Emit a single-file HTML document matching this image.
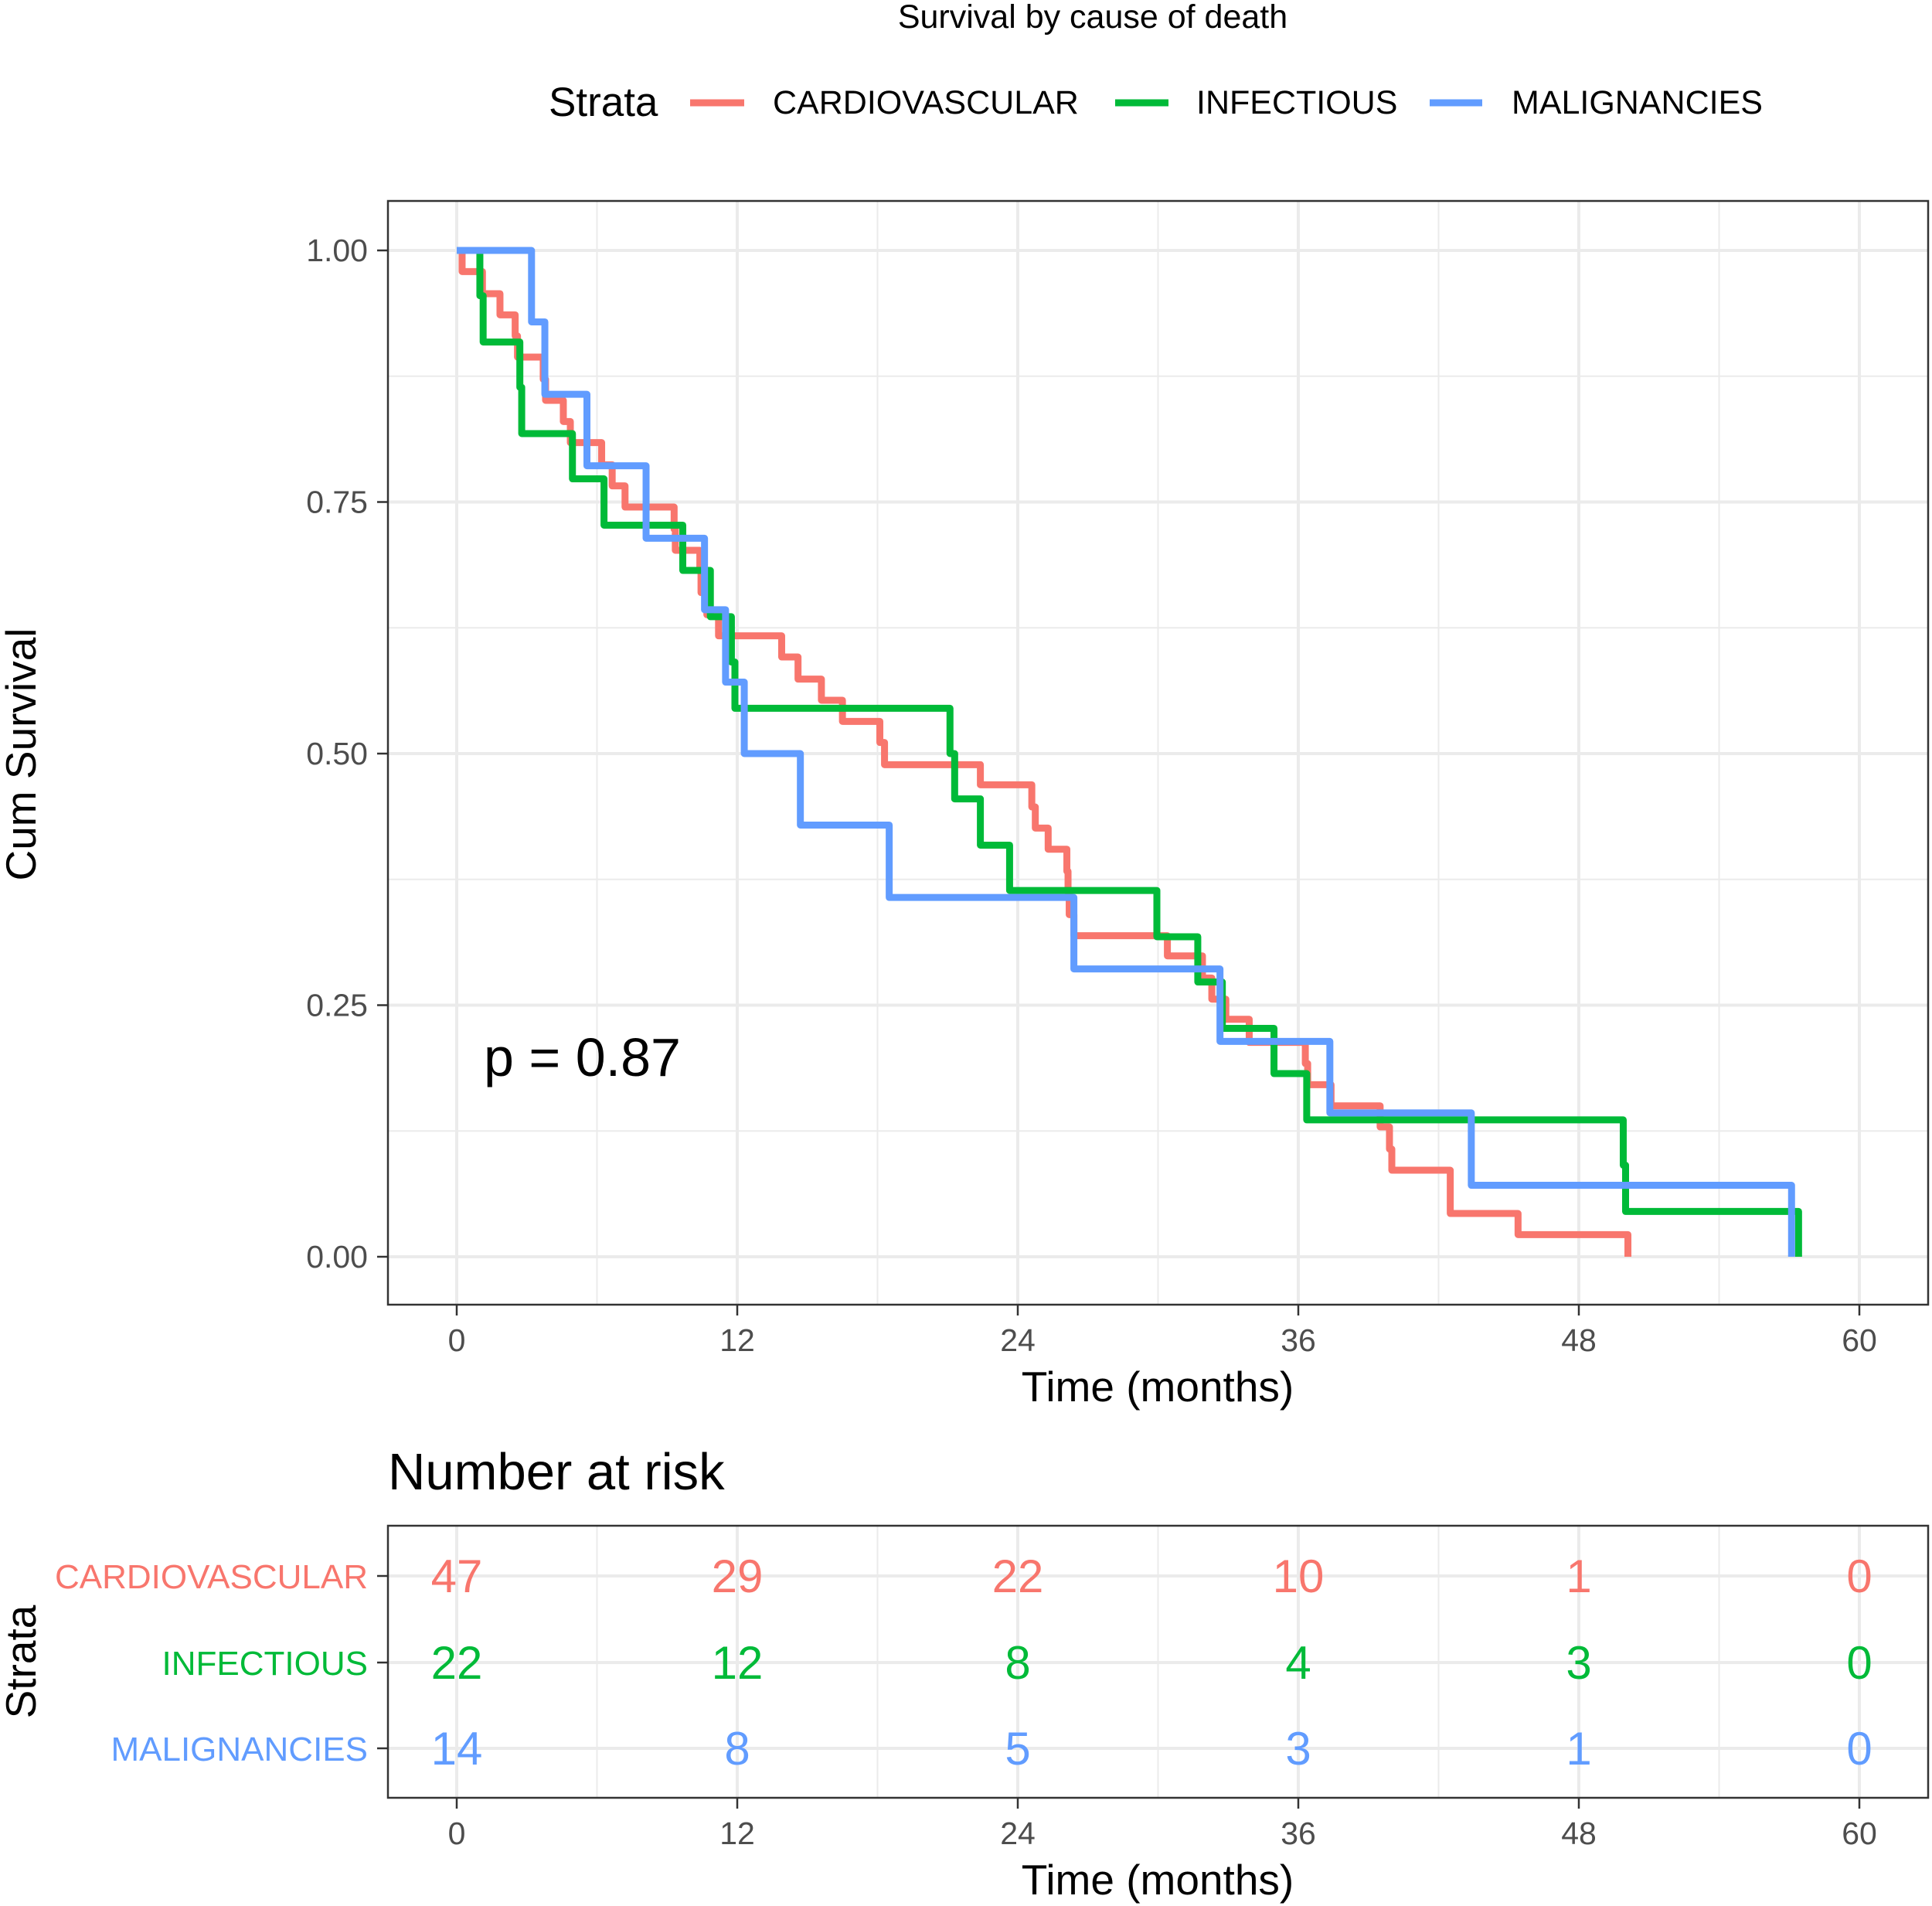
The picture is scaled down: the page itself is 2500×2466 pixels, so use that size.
<!DOCTYPE html>
<html><head><meta charset="utf-8"><style>
html,body{margin:0;padding:0;background:#fff;}
svg{display:block;font-family:"Liberation Sans",sans-serif;}
</style></head><body>
<svg id="chart" width="2500" height="2466" viewBox="0 0 2500 2466" xmlns="http://www.w3.org/2000/svg">
<text x="1414" y="36" font-size="43" text-anchor="middle" fill="#000">Survival by cause of death</text>
<g>
<text x="710" y="150" font-size="53" fill="#000">Strata</text>
<line x1="893" y1="133" x2="963" y2="133" stroke="#F8766D" stroke-width="9"/>
<text x="1000" y="147" font-size="43" fill="#000">CARDIOVASCULAR</text>
<line x1="1443" y1="133" x2="1512" y2="133" stroke="#00BA38" stroke-width="9"/>
<text x="1548" y="147" font-size="43" fill="#000">INFECTIOUS</text>
<line x1="1850" y1="133" x2="1918" y2="133" stroke="#619CFF" stroke-width="9"/>
<text x="1956" y="147" font-size="43" fill="#000">MALIGNANCIES</text>
</g>
<g id="plot"></g>
<g id="risk"></g>
</svg>
<script>
const xTicks = [0, 12, 24, 36, 48, 60];
const yTicks = [0, 0.25, 0.5, 0.75, 1];
const yTickLabels = ["0.00", "0.25", "0.50", "0.75", "1.00"];
const cardioTimes = [0.23,1.1,1.85,2.5,2.6,3.7,3.8,4.56,4.86,6.2,6.65,7.2,9.3,9.35,10.4,10.45,10.7,11.2,13.9,14.6,15.6,16.5,18.1,18.3,22.4,24.6,24.75,25.3,26.1,26.15,26.2,26.4,30.4,31.9,32.3,32.9,33.9,36.3,36.4,37.4,39.5,39.9,40.0,42.5,45.4,50.1];
const cardioSurv = [0.979,0.957,0.936,0.915,0.894,0.872,0.851,0.830,0.809,0.787,0.766,0.745,0.723,0.702,0.681,0.660,0.638,0.617,0.596,0.574,0.553,0.532,0.511,0.489,0.469,0.447,0.426,0.405,0.383,0.362,0.340,0.319,0.299,0.277,0.256,0.236,0.213,0.192,0.171,0.150,0.129,0.107,0.086,0.043,0.022,0];
const infTimes = [0.99,1.13,2.7,2.78,4.95,6.3,9.67,10.85,11.75,11.9,21.1,21.3,22.4,23.65,29.95,31.7,32.75,34.96,36.36,49.9,50.0,57.4];
const infSurv = [0.955,0.909,0.864,0.818,0.773,0.727,0.682,0.636,0.591,0.545,0.5,0.455,0.409,0.364,0.318,0.273,0.227,0.182,0.136,0.091,0.045,0];
const malTimes = [3.2,3.77,5.57,8.1,10.6,11.5,12.3,14.7,18.5,26.4,32.65,37.35,43.4,57.1];
const malSurv = [0.929,0.857,0.786,0.714,0.643,0.571,0.5,0.429,0.357,0.286,0.214,0.143,0.071,0];
const strata = ["CARDIOVASCULAR", "INFECTIOUS", "MALIGNANCIES"];
const riskCardio = [47, 29, 22, 10, 1, 0];
const riskInf = [22, 12, 8, 4, 3, 0];
const riskMal = [14, 8, 5, 3, 1, 0];

const NS = "http://www.w3.org/2000/svg";
const colors = ["#F8766D", "#00BA38", "#619CFF"];
function mk(parent, tag, attrs, text) {
  const e = document.createElementNS(NS, tag);
  for (const k in attrs) e.setAttribute(k, attrs[k]);
  if (text !== undefined) e.textContent = text;
  parent.appendChild(e);
  return e;
}
const X = t => 591 + 30.25 * t;
const Y = s => 1626 - 1302 * s;
const P = {l: 502, t: 260, r: 2495, b: 1688};
const plot = document.getElementById('plot');

for (let k = 0; k < 5; k++) {
  const g = mk(plot, 'line', {x1: X(6 + 12 * k), x2: X(6 + 12 * k), y1: P.t, y2: P.b, stroke: '#ebebeb', 'stroke-width': 2});
  
  
}
for (let k = 0; k < 4; k++) {
  const g = mk(plot, 'line', {x1: P.l, x2: P.r, y1: Y(0.125 + 0.25 * k), y2: Y(0.125 + 0.25 * k), stroke: '#ebebeb', 'stroke-width': 2});
  
  
}
xTicks.forEach(t => {
  const g = mk(plot, 'line', {x1: X(t), x2: X(t), y1: P.t, y2: P.b, stroke: '#ebebeb', 'stroke-width': 4});
  
  
});
yTicks.forEach(v => {
  const g = mk(plot, 'line', {x1: P.l, x2: P.r, y1: Y(v), y2: Y(v), stroke: '#ebebeb', 'stroke-width': 4});
  
  
});

function stepPath(times, surv) {
  let d = 'M' + X(0) + ' ' + Y(1);
  for (let i = 0; i < times.length; i++) {
    d += ' H' + X(times[i]) + ' V' + Y(surv[i]);
  }
  return d;
}
const series = [[cardioTimes, cardioSurv, 'curve-cardiovascular'], [infTimes, infSurv, 'curve-infectious'], [malTimes, malSurv, 'curve-malignancies']];
series.forEach((s, i) => {
  const p = mk(plot, 'path', {d: stepPath(s[0], s[1]), fill: 'none', stroke: colors[i], 'stroke-width': 9, 'stroke-linejoin': 'round'});
  
  
});

const bd = mk(plot, 'rect', {x: P.l, y: P.t, width: P.r - P.l, height: P.b - P.t, fill: 'none', stroke: '#333', 'stroke-width': 2.5});



yTicks.forEach((v, i) => {
  const tk = mk(plot, 'line', {x1: P.l - 14, x2: P.l, y1: Y(v), y2: Y(v), stroke: '#333', 'stroke-width': 2.5});
  
  
  const tl = mk(plot, 'text', {x: P.l - 26, y: Y(v) + 14, 'font-size': 41, 'text-anchor': 'end', fill: '#4d4d4d'}, yTickLabels[i]);
  
  
});
xTicks.forEach(t => {
  const tk = mk(plot, 'line', {x1: X(t), x2: X(t), y1: P.b, y2: P.b + 14, stroke: '#333', 'stroke-width': 2.5});
  
  
  const tl = mk(plot, 'text', {x: X(t), y: 1748, 'font-size': 41, 'text-anchor': 'middle', fill: '#4d4d4d'}, String(t));
  
  
});
let e;
e = mk(plot, 'text', {x: 1498, y: 1813, 'font-size': 55, 'text-anchor': 'middle', fill: '#000'}, 'Time (months)');


e = mk(plot, 'text', {x: 46, y: 976, 'font-size': 55, 'text-anchor': 'middle', fill: '#000', transform: 'rotate(-90 46 976)'}, 'Cum Survival');


e = mk(plot, 'text', {x: 626, y: 1392, 'font-size': 70, fill: '#000'}, 'p = 0.87');



const risk = document.getElementById('risk');
const R = {l: 502, t: 1974, r: 2495, b: 2326};
const rowY = [2039, 2151, 2262];
e = mk(risk, 'text', {x: 502, y: 1927, 'font-size': 67, fill: '#000'}, 'Number at risk');


for (let k = 0; k < 5; k++) {
  const g = mk(risk, 'line', {x1: X(6 + 12 * k), x2: X(6 + 12 * k), y1: R.t, y2: R.b, stroke: '#ebebeb', 'stroke-width': 2});
  
  
}
xTicks.forEach(t => {
  const g = mk(risk, 'line', {x1: X(t), x2: X(t), y1: R.t, y2: R.b, stroke: '#ebebeb', 'stroke-width': 4});
  
  
});
rowY.forEach(y => {
  const g = mk(risk, 'line', {x1: R.l, x2: R.r, y1: y, y2: y, stroke: '#ebebeb', 'stroke-width': 4});
  
  
});
const riskRows = [riskCardio, riskInf, riskMal];
riskRows.forEach((row, i) => {
  row.forEach((n, j) => {
    const t = mk(risk, 'text', {x: X(xTicks[j]), y: rowY[i] + 21, 'font-size': 60, 'text-anchor': 'middle', fill: colors[i]}, String(n));
    
    
  });
  const lb = mk(risk, 'text', {x: R.l - 26, y: rowY[i] + 16, 'font-size': 44, 'text-anchor': 'end', fill: colors[i]}, strata[i]);
  
  
  const tk = mk(risk, 'line', {x1: R.l - 14, x2: R.l, y1: rowY[i], y2: rowY[i], stroke: '#333', 'stroke-width': 2.5});
  
  
});
e = mk(risk, 'rect', {x: R.l, y: R.t, width: R.r - R.l, height: R.b - R.t, fill: 'none', stroke: '#333', 'stroke-width': 2.5});


xTicks.forEach(t => {
  const tk = mk(risk, 'line', {x1: X(t), x2: X(t), y1: R.b, y2: R.b + 14, stroke: '#333', 'stroke-width': 2.5});
  
  
  const tl = mk(risk, 'text', {x: X(t), y: 2386, 'font-size': 41, 'text-anchor': 'middle', fill: '#4d4d4d'}, String(t));
  
  
});
e = mk(risk, 'text', {x: 1498, y: 2451, 'font-size': 55, 'text-anchor': 'middle', fill: '#000'}, 'Time (months)');


e = mk(risk, 'text', {x: 46, y: 2150, 'font-size': 55, 'text-anchor': 'middle', fill: '#000', transform: 'rotate(-90 46 2150)'}, 'Strata');


</script>
</body></html>
